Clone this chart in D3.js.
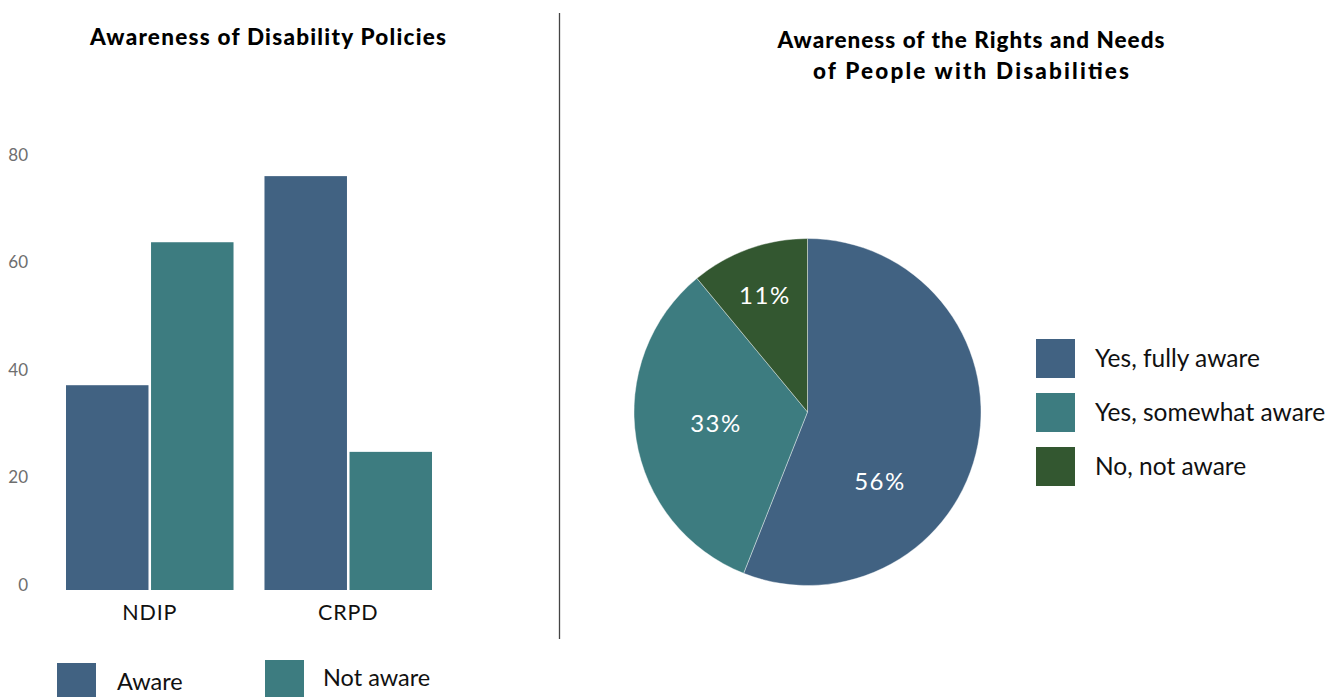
<!DOCTYPE html>
<html>
<head>
<meta charset="utf-8">
<script src="https://cdn.jsdelivr.net/npm/d3@7"></script>
<style>
  html, body { margin: 0; padding: 0; background: #fff; }
  svg { display: block; }
  text { font-family: Lato, "Open Sans", sans-serif; }
</style>
</head>
<body>
<svg id="chart" width="1328" height="697"></svg>
<script>
// ---- data ----
const barCategories = ["NDIP", "CRPD"];
const barSeries = ["Aware", "Not aware"];
const awareValues = [38.1, 77.0];
const notAwareValues = [64.7, 25.7];
const yTicks = [0, 20, 40, 60, 80];

const pieLabels = ["Yes, fully aware", "Yes, somewhat aware", "No, not aware"];
const pieValues = [56, 33, 11];

const barTitle = "Awareness of Disability Policies";
const pieTitle = ["Awareness of the Rights and Needs", "of People with Disabilities"];

const colors = ["#416282", "#3d7c80", "#335730"];

// ---- drawing ----
const svg = d3.select("#chart");

// titles
svg.append("text").attr("x", 268).attr("y", 45).attr("text-anchor", "middle")
  .attr("font-size", 22.5).attr("font-weight", 900).attr("fill", "#000")
  .attr("textLength", 356).attr("lengthAdjust", "spacing").text(barTitle);
const titleWidths = [387, 316];
svg.selectAll("text.ptitle").data(pieTitle).enter().append("text")
  .attr("class", "ptitle")
  .attr("x", 971).attr("y", (d, i) => 48 + i * 30.5).attr("text-anchor", "middle")
  .attr("font-size", 22.5).attr("font-weight", 900).attr("fill", "#000")
  .attr("textLength", (d, i) => titleWidths[i]).attr("lengthAdjust", "spacing").text(d => d);

// divider
svg.append("line").attr("x1", 559.5).attr("x2", 559.5).attr("y1", 13).attr("y2", 639)
  .attr("stroke", "#444").attr("stroke-width", 1.3);

// bar chart
const y = d3.scaleLinear().domain([0, 80]).range([590, 160]);
const x0 = d3.scaleBand().domain(barCategories).range([66, 432]).paddingInner(0.156).paddingOuter(0);
const x1 = d3.scaleBand().domain(barSeries).range([0, x0.bandwidth()]).paddingInner(0.03);
const color = d3.scaleOrdinal().domain(barSeries).range(colors.slice(0, 2));

const rows = barCategories.map((c, i) => ({ cat: c, vals: [
  { s: barSeries[0], v: awareValues[i] },
  { s: barSeries[1], v: notAwareValues[i] }
]}));

const groups = svg.append("g").selectAll("g").data(rows).enter().append("g")
  .attr("transform", d => `translate(${x0(d.cat)},0)`);
groups.selectAll("rect").data(d => d.vals).enter().append("rect")
  .attr("x", d => x1(d.s)).attr("width", x1.bandwidth())
  .attr("y", d => y(d.v)).attr("height", d => y(0) - y(d.v))
  .attr("fill", d => color(d.s));

// y axis (labels only)
const yAxis = d3.axisLeft(y).tickValues(yTicks).tickSize(0).tickPadding(0);
const yg = svg.append("g").attr("transform", "translate(28,-5)").call(yAxis);
yg.select(".domain").remove();
yg.selectAll("text").attr("font-family", "'Liberation Sans Narrow', 'Roboto Condensed', sans-serif")
  .attr("font-size", 17).attr("font-weight", 400).attr("fill", "#6e6e6e");

// x axis (labels only)
const xAxis = d3.axisBottom(x0).tickSize(0).tickPadding(0);
const xg = svg.append("g").attr("transform", "translate(0,605)").call(xAxis);
xg.select(".domain").remove();
xg.selectAll("text").attr("font-family", "Lato, sans-serif").attr("font-size", 21.5)
  .attr("letter-spacing", 0.8).attr("fill", "#111").attr("dy", "0.71em");

// bar legend
const barLegendPos = [{ x: 57, y: 663, tx: 117, ty: 690 }, { x: 265, y: 660, tx: 323, ty: 686 }];
const bl = svg.append("g").selectAll("g").data(barSeries).enter().append("g");
bl.append("rect").attr("x", (d, i) => barLegendPos[i].x).attr("y", (d, i) => barLegendPos[i].y)
  .attr("width", 39).attr("height", 40).attr("fill", d => color(d));
bl.append("text").attr("x", (d, i) => barLegendPos[i].tx).attr("y", (d, i) => barLegendPos[i].ty)
  .attr("font-size", 23.5).attr("fill", "#111").text(d => d);

// pie chart
const cx = 807.5, cy = 412, r = 173.5;
const pie = d3.pie().sort(null).value(d => d)(pieValues);
const arc = d3.arc().innerRadius(0).outerRadius(r);
const pg = svg.append("g").attr("transform", `translate(${cx},${cy})`);
pg.selectAll("path").data(pie).enter().append("path")
  .attr("d", arc).attr("fill", (d, i) => colors[i])
  .attr("stroke", "#fff").attr("stroke-width", 0.4);

// label placement: radius (fraction of r) and angular position within slice (0..1)
const labelRadius = [0.577, 0.532, 0.712];
const labelAngleFrac = [0.663, 0.513, 0.49];
pg.selectAll("text").data(pie).enter().append("text")
  .attr("transform", (d, i) => {
    const a = d.startAngle + (d.endAngle - d.startAngle) * labelAngleFrac[i];
    const rr = r * labelRadius[i];
    return `translate(${rr * Math.sin(a)},${-rr * Math.cos(a)})`;
  })
  .attr("text-anchor", "middle").attr("dy", "0.35em")
  .attr("font-size", 24).attr("fill", "#fff").attr("letter-spacing", 1.5)
  .text(d => d.data + "%");

// pie legend
const pl = svg.append("g").selectAll("g").data(pieLabels).enter().append("g")
  .attr("transform", (d, i) => `translate(1036,${339 + i * 54})`);
pl.append("rect").attr("width", 39).attr("height", 39).attr("fill", (d, i) => colors[i]);
pl.append("text").attr("x", 59).attr("y", 28).attr("font-size", 24.5).attr("fill", "#111").text(d => d);
</script>
</body>
</html>
